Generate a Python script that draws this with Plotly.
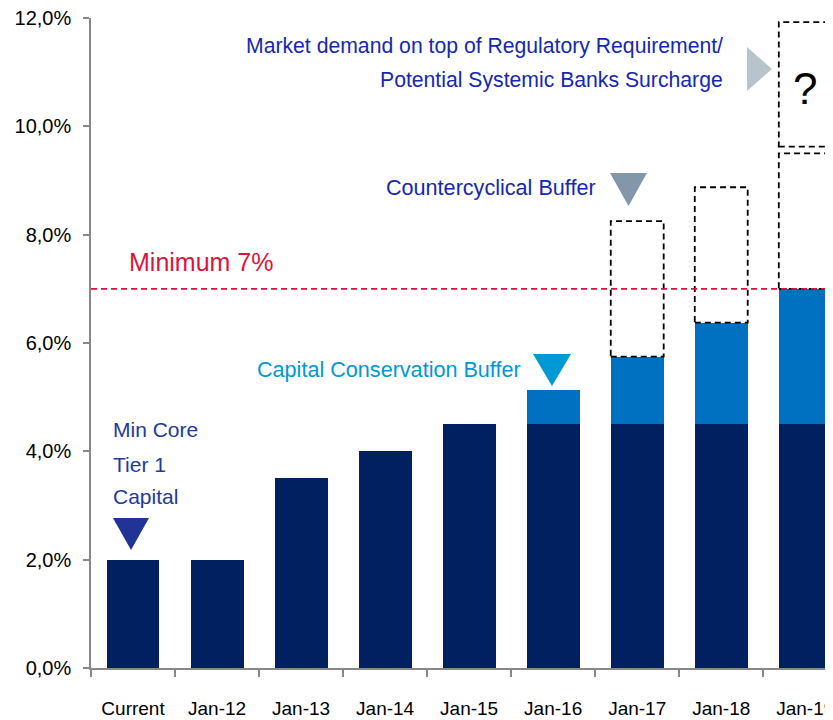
import plotly.graph_objects as go

# ---- data ----
categories = ["Current", "Jan-12", "Jan-13", "Jan-14", "Jan-15", "Jan-16", "Jan-17", "Jan-18", "Jan-19"]
min_core_tier1 = [2.0, 2.0, 3.5, 4.0, 4.5, 4.5, 4.5, 4.5, 4.5]
conservation_buffer = [0, 0, 0, 0, 0, 0.625, 1.25, 1.875, 2.5]
countercyclical_buffer = [None, None, None, None, None, None, 2.5, 2.5, 2.5]
surcharge_base = [None, None, None, None, None, None, None, None, 9.625]
surcharge_height = [None, None, None, None, None, None, None, None, 2.3]
minimum_level = 7.0
y_ticks = [0, 2, 4, 6, 8, 10, 12]
y_tick_labels = ["0,0%", "2,0%", "4,0%", "6,0%", "8,0%", "10,0%", "12,0%"]

NAVY = "#00205F"
BLUE = "#0070C0"
RED = "#E0103C"
FONT = "Liberation Sans, Arial, sans-serif"

BARGAP = 0.37
HALF = (1 - BARGAP) / 2

fig = go.Figure()
fig.add_trace(go.Bar(x=categories, y=min_core_tier1, marker=dict(color=NAVY, line=dict(width=0)),
                     name="Min Core Tier 1"))
fig.add_trace(go.Bar(x=categories, y=conservation_buffer, marker=dict(color=BLUE, line=dict(width=0)),
                     name="Capital Conservation Buffer"))

DASH = "6px,4px"
shapes = []
# dashed boxes for countercyclical buffer
for i, h in enumerate(countercyclical_buffer):
    if h is None:
        continue
    base = min_core_tier1[i] + conservation_buffer[i]
    shapes.append(dict(type="rect", xref="x", yref="y", x0=i - HALF, x1=i + HALF,
                       y0=base, y1=base + h, line=dict(color="black", width=1.8, dash=DASH),
                       fillcolor="rgba(0,0,0,0)", layer="above"))
# dashed box for surcharge
for i, b in enumerate(surcharge_base):
    if b is None:
        continue
    shapes.append(dict(type="rect", xref="x", yref="y", x0=i - HALF, x1=i + HALF,
                       y0=b, y1=b + surcharge_height[i], line=dict(color="black", width=1.8, dash=DASH),
                       fillcolor="rgba(0,0,0,0)", layer="above"))
# minimum line
shapes.append(dict(type="line", xref="paper", yref="y", x0=0, x1=1, y0=minimum_level, y1=minimum_level,
                   line=dict(color=RED, width=1.6, dash=DASH), layer="above"))


def tri(pts, color):
    p = "M {} {} L {} {} L {} {} Z".format(*[c for xy in pts for c in xy])
    return dict(type="path", xref="paper", yref="paper", path=p, fillcolor=color,
                line=dict(width=0), layer="above")


# decorative pointer triangles (paper coords)
shapes.append(tri([(0.0296, 0.2308), (0.0782, 0.2308), (0.0539, 0.1815)], "#1F3494"))
shapes.append(tri([(0.5957, 0.4831), (0.6469, 0.4831), (0.6213, 0.4338)], "#0099D5"))
shapes.append(tri([(0.6995, 0.7615), (0.7493, 0.7615), (0.7244, 0.7108)], "#8496A9"))
shapes.append(tri([(0.8841, 0.9554), (0.8841, 0.8877), (0.9178, 0.9215)], "#B8C4CC"))

ann = []


def txt(t, x, y, color, size=21.5, xanchor="left"):
    ann.append(dict(text=t, x=x, y=y, xref="paper", yref="paper", xanchor=xanchor, yanchor="middle",
                    showarrow=False, borderpad=0,
                    font=dict(family=FONT, size=size, color=color)))


txt("Market demand on top of Regulatory Requirement/", 0.8531, 0.9569, "#1428B4", size=21.2, xanchor="right")
txt("Potential Systemic Banks Surcharge", 0.8531, 0.9046, "#1428B4", size=21.2, xanchor="right")
txt("?", 0.9623, 0.8923, "black", size=44, xanchor="center")
txt("Countercyclical Buffer", 0.6819, 0.740, "#1428B4", size=21.6, xanchor="right")
txt("Capital Conservation Buffer", 0.5809, 0.4585, "#0099D5", size=21.6, xanchor="right")
txt("Minimum 7%", 0.0499, 0.6246, "#DC143C", size=25)
txt("Min Core", 0.0283, 0.3662, "#23399B", size=21)
txt("Tier 1", 0.0283, 0.3138, "#23399B", size=21)
txt("Capital", 0.0283, 0.2631, "#23399B", size=21)

# The page body has an 8px margin, so the figure is sized/margined to compensate.
fig.update_layout(
    width=825, height=712,
    margin=dict(l=83, r=0, t=10, b=52),
    paper_bgcolor="white", plot_bgcolor="white",
    barmode="stack", bargap=BARGAP,
    showlegend=False,
    shapes=shapes, annotations=ann,
    xaxis=dict(type="category", range=[-0.5, 8.33], tickson="boundaries", ticks="outside",
               ticklen=7, tickwidth=1.5, tickcolor="#888888", showline=True, linecolor="#888888",
               linewidth=1.5, showgrid=False, automargin=False, ticklabelstandoff=22,
               ticklabeloverflow="allow",
               tickfont=dict(family=FONT, size=19, color="black")),
    yaxis=dict(range=[0, 12], tickvals=y_ticks, ticktext=y_tick_labels, ticks="outside",
               ticklen=6, tickwidth=1.5, tickcolor="#888888", showline=True, linecolor="#888888",
               linewidth=1.5, showgrid=False, zeroline=False, automargin=False, ticklabelstandoff=8,
               ticklabeloverflow="allow",
               tickfont=dict(family=FONT, size=20, color="black")),
)

fig.write_html("out.html")
